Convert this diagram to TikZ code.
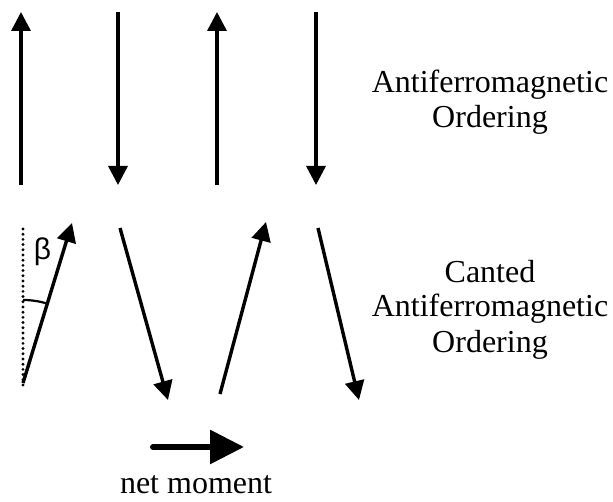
\documentclass[tikz,border=0pt]{standalone}
\usepackage{fontspec}
\setmainfont{Liberation Serif}
\newfontfamily\betafont{Liberation Sans}
\usetikzlibrary{arrows.meta}
\begin{document}
\begin{tikzpicture}[x=1pt,y=1pt,
  spin/.style={line width=3.4pt,-{Triangle[length=19pt,width=19pt]}},
  netarrow/.style={line width=6pt,line cap=round,-{Triangle[length=34pt,width=33pt,line cap=butt]}},
  lbl/.style={font=\fontsize{32}{36}\selectfont,inner sep=0pt,anchor=base},
  refline/.style={line width=3.2pt,line cap=round,dash pattern=on 0pt off 5.2pt},
  anglearc/.style={line width=2.2pt}]
\useasboundingbox (0,0) rectangle (613,502);
% antiferromagnetic row
\coordinate (a1s) at (21,317);  \coordinate (a1e) at (21,490);
\coordinate (a2s) at (118,490); \coordinate (a2e) at (118,317);
\coordinate (a3s) at (217,317); \coordinate (a3e) at (217,490);
\coordinate (a4s) at (316,490); \coordinate (a4e) at (316,317);
\draw[spin] (a1s) -- (a1e);
\draw[spin] (a2s) -- (a2e);
\draw[spin] (a3s) -- (a3e);
\draw[spin] (a4s) -- (a4e);
% canted row
\coordinate (c1s) at (23,119);  \coordinate (c1e) at (72,279);
\coordinate (c2s) at (120,274); \coordinate (c2e) at (168,102);
\coordinate (c3s) at (220,108); \coordinate (c3e) at (266,280);
\coordinate (c4s) at (318,274); \coordinate (c4e) at (359,102);
\draw[spin] (c1s) -- (c1e);
\draw[spin] (c2s) -- (c2e);
\draw[spin] (c3s) -- (c3e);
\draw[spin] (c4s) -- (c4e);
% reference line and angle
\coordinate (d1) at (23,273); \coordinate (d2) at (23,112);
\draw[refline] (d1) -- (d2);
\draw[anglearc] (c1s) ++(90:83) arc[start angle=90,end angle=73,radius=83];
\node[inner sep=0pt,font=\betafont\fontsize{30}{33}\selectfont] (beta) at (42.5,250.5) {β};
% net moment
\coordinate (ns) at (153,55); \coordinate (ne) at (244,55);
\draw[netarrow] (ns) -- (ne);
\node[lbl] (net) at (196,8.5) {net moment};
% labels
\node[lbl] (af1) at (490,409) {Antiferromagnetic};
\node[lbl] (af2) at (490,374) {Ordering};
\node[lbl] (ca1) at (490,219) {Canted};
\node[lbl] (ca2) at (490,185) {Antiferromagnetic};
\node[lbl] (ca3) at (490,149) {Ordering};
\end{tikzpicture}
\end{document}
